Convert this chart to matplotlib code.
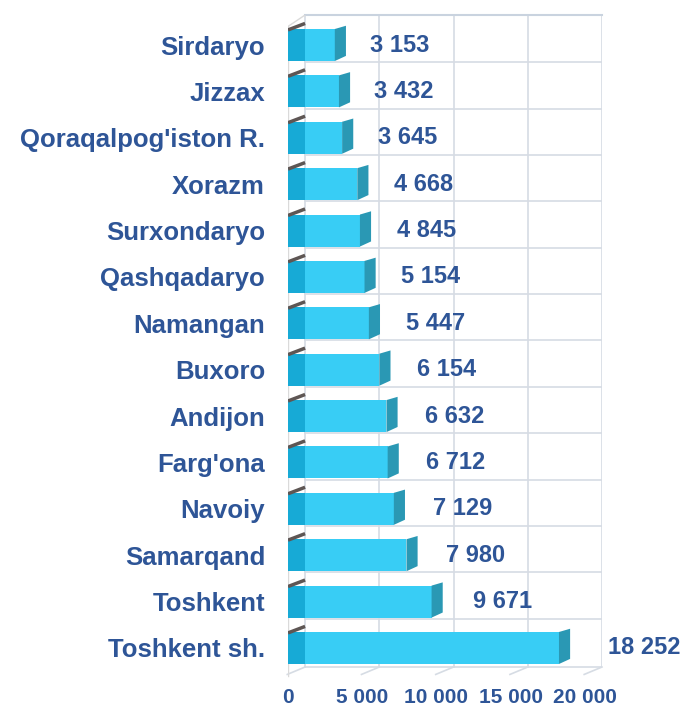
import numpy as np
import matplotlib
matplotlib.use("Agg")
import matplotlib.pyplot as plt
from matplotlib.patches import Polygon

# ── DATA ─────────────────────────────────────────────────────
regions = ["Sirdaryo", "Jizzax", "Qoraqalpog'iston R.", "Xorazm", "Surxondaryo",
           "Qashqadaryo", "Namangan", "Buxoro", "Andijon", "Farg'ona",
           "Navoiy", "Samarqand", "Toshkent", "Toshkent sh."]
values = [3153, 3432, 3645, 4668, 4845, 5154, 5447, 6154, 6632, 6712,
          7129, 7980, 9671, 18252]
x_ticks = [0, 5000, 10000, 15000, 20000]
x_tick_labels = ["0", "5 000", "10 000", "15 000", "20 000"]

# ── STYLE ────────────────────────────────────────────────────
TXT = "#2E5597"
FRONT = "#38CDF5"
LEFT = "#17AAD6"
SIDE = "#2A98B4"
GRID = "#D6DCE4"
SHIFT = 1150      # front face sits left of the back wall (pseudo 3D)
DEPTH = 750       # side face depth in data units
H = 0.69

plt.rcParams["font.family"] = ["Liberation Sans", "DejaVu Sans"]
plt.rcParams["font.weight"] = "bold"

fig = plt.figure(figsize=(6.84, 7.06), dpi=100)
ax = fig.add_axes([288 / 684, 1 - 680 / 706, 314 / 684, 665 / 706])
ax.set_xlim(-SHIFT, 20000)
ax.set_ylim(13.69, -0.647)
for s in ax.spines.values():
    s.set_visible(False)

y = np.arange(len(regions))
floor_y = 13.41

# ── BACK WALL + FLOOR ────────────────────────────────────────
for t in x_ticks:
    ax.plot([t, t], [-0.647, floor_y], color=GRID, lw=1.2, zorder=0)
    ax.plot([t, t - 1200], [floor_y, floor_y + 0.16], color=GRID, lw=1.2,
            zorder=0, clip_on=False)
ax.plot([0, 20000], [-0.647, -0.647], color="#C9D3DF", lw=1.5, zorder=0, clip_on=False)
for i in y[:-1]:
    ax.plot([0, 20000], [i + 0.37, i + 0.37], color=GRID, lw=1.2, zorder=0)
ax.plot([0, 20000], [floor_y, floor_y], color=GRID, lw=1.2, zorder=0)
ax.plot([-SHIFT, -SHIFT], [-0.4, 13.6], color="#DADADA", lw=1, zorder=0)
ax.plot([-SHIFT, 0], [-0.4, -0.647], color="#DADADA", lw=1, zorder=0)

# ── BARS ─────────────────────────────────────────────────────
ax.barh(y, values, left=-SHIFT, height=H, color=FRONT, zorder=2)
ax.barh(y, [SHIFT] * len(y), left=-SHIFT, height=H, color=LEFT, zorder=3)

for yi, v in zip(y, values):
    x1 = v - SHIFT
    top, bot = yi - H / 2, yi + H / 2
    side = Polygon([(x1, top), (x1 + DEPTH, top - 0.07),
                    (x1 + DEPTH, bot - 0.11), (x1, bot)],
                   closed=True, facecolor=SIDE, edgecolor="none", zorder=3)
    ax.add_patch(side)
    ax.plot([-SHIFT, 0], [top + 0.02, top - 0.12], color="#5E5654", lw=2.5,
            zorder=4, solid_capstyle="butt")
    ax.text(x1 + 2175 + 0.061 * v, yi, f"{v:,}".replace(",", " "),
            ha="left", va="center", fontsize=17, color=TXT, fontweight="bold")

# ── AXES TEXT ────────────────────────────────────────────────
ax.set_yticks(y)
ax.set_yticklabels(regions, fontsize=18.5, color=TXT, fontweight="bold")
ax.set_xticks(np.array(x_ticks) - SHIFT)
ax.set_xticklabels(x_tick_labels, fontsize=15, color=TXT, fontweight="bold")
ax.tick_params(axis="y", length=0, pad=16.5)
ax.tick_params(axis="x", length=0, pad=6)

plt.savefig("out.png", dpi=100)
plt.close()
